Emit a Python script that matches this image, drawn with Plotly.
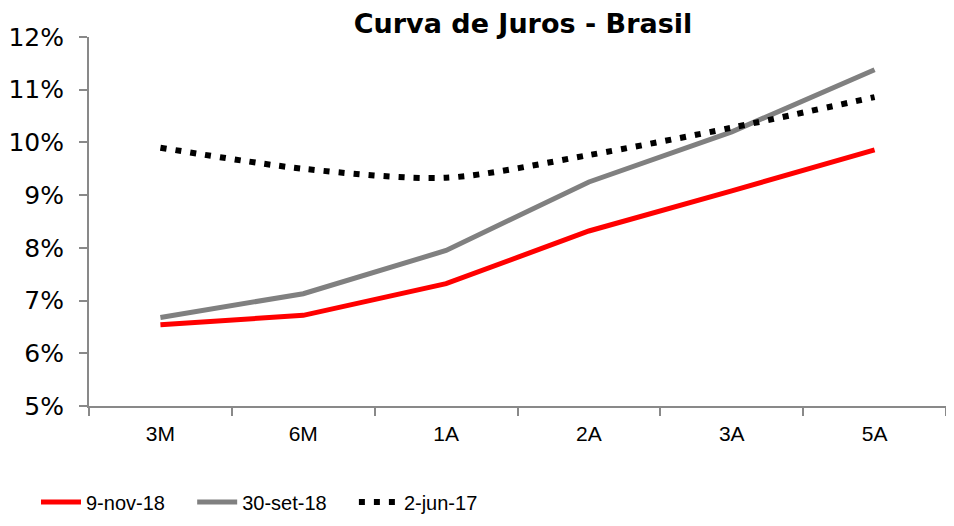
import plotly.graph_objects as go

categories = ["3M", "6M", "1A", "2A", "3A", "5A"]
nov_18 = [6.54, 6.72, 7.32, 8.32, 9.08, 9.86]
set_18 = [6.68, 7.13, 7.95, 9.25, 10.20, 11.38]
jun_17 = [9.90, 9.50, 9.33, 9.76, 10.28, 10.86]
y_ticks = [5, 6, 7, 8, 9, 10, 11, 12]
series_names = ["9-nov-18", "30-set-18", "2-jun-17"]

PAD = "\u00a0" * 4

fig = go.Figure()
fig.add_trace(go.Scatter(x=categories, y=[v / 100 for v in nov_18], name=series_names[0] + PAD,
                         mode="lines", line=dict(color="#ff0000", width=5)))
fig.add_trace(go.Scatter(x=categories, y=[v / 100 for v in set_18], name=series_names[1] + PAD,
                         mode="lines", line=dict(color="#808080", width=5)))
fig.add_trace(go.Scatter(x=categories, y=[v / 100 for v in jun_17], name=series_names[2],
                         mode="lines", line=dict(color="#000000", width=6, dash="6px,9px",
                                                  shape="spline", smoothing=0.8)))

fig.update_layout(
    width=954, height=526,
    margin=dict(l=81, r=16, t=29, b=128, autoexpand=False),
    paper_bgcolor="white", plot_bgcolor="white",
    title=dict(text="<b>Curva de Juros - Brasil</b>", x=515 / 954, xref="container",
               xanchor="center", y=1 - 16 / 526, yanchor="middle",
               font=dict(family="DejaVu Sans", size=27, color="black")),
    showlegend=True,
    legend=dict(orientation="h", x=28 / 954, xanchor="left", xref="container",
                y=1 - 494 / 526, yanchor="middle", yref="container",
                font=dict(family="Liberation Sans, Arial", size=20, color="black"),
                itemwidth=40, tracegroupgap=0),
    xaxis=dict(showline=True, linecolor="#898989", linewidth=2, ticks="outside",
               tickson="boundaries", ticklen=8, tickcolor="#898989", tickwidth=2,
               showgrid=False, tickfont=dict(family="Liberation Sans, Arial", size=21, color="black"),
               ticklabelstandoff=8, range=[-0.5, 5.5], automargin=False),
    yaxis=dict(showline=True, linecolor="#898989", linewidth=2, ticks="outside",
               ticklen=8, tickcolor="#898989", tickwidth=2, showgrid=False,
               range=[0.05, 0.12], tickvals=[t / 100 for t in y_ticks],
               ticktext=[f"{t}%" for t in y_ticks], ticklabelstandoff=10,
               tickfont=dict(family="DejaVu Sans", size=25, color="black"),
               zeroline=False, automargin=False),
)

fig.write_html("out.html")
